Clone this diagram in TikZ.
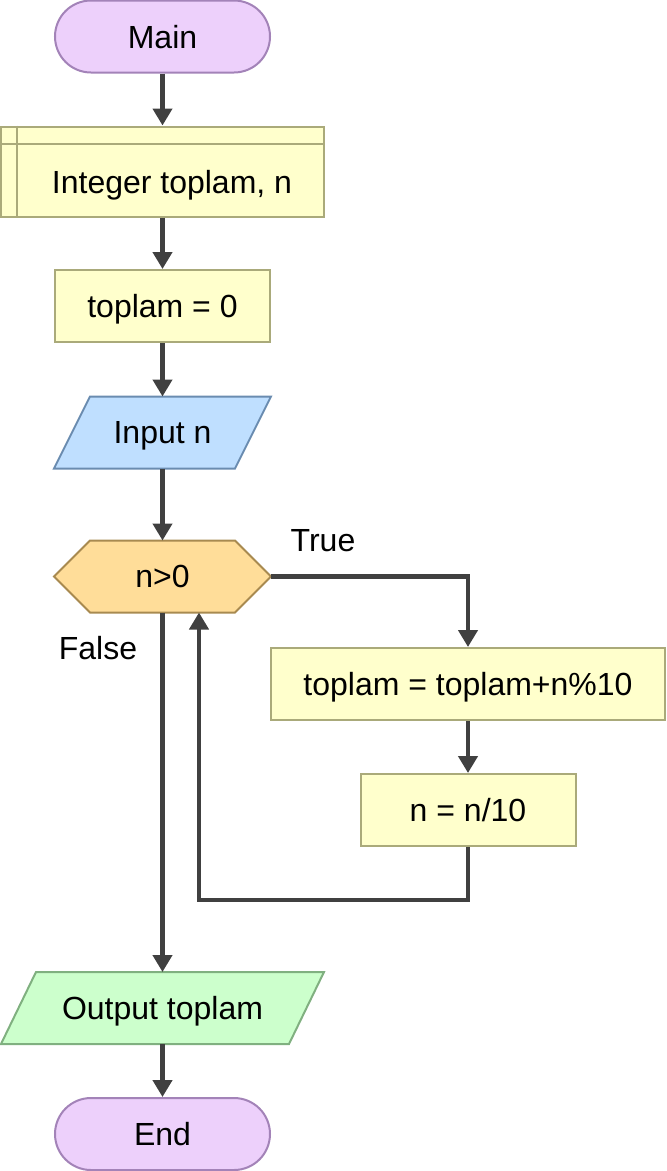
\documentclass[tikz,border=0pt]{standalone}
\usepackage{fontspec}
\setmainfont{Liberation Sans}
\usetikzlibrary{arrows.meta,calc,backgrounds}
\definecolor{termfill}{HTML}{EDD0FB}
\definecolor{termline}{HTML}{A383B8}
\definecolor{procfill}{HTML}{FFFFCC}
\definecolor{procline}{HTML}{AAAA7A}
\definecolor{infill}{HTML}{BFDFFF}
\definecolor{inline}{HTML}{6A8CB0}
\definecolor{outfill}{HTML}{CCFFCC}
\definecolor{outline}{HTML}{80B080}
\definecolor{iffill}{HTML}{FFDD99}
\definecolor{ifline}{HTML}{A88A50}
\definecolor{flow}{HTML}{404040}
\begin{document}
\begin{tikzpicture}[x=1pt,y=-1pt,
  font=\fontsize{32}{38}\selectfont,
  every node/.style={inner sep=0pt, text depth=0pt},
  terminal/.style={rectangle, rounded corners=36pt, draw=termline, fill=termfill,
    line width=2pt, minimum width=215pt, minimum height=72pt},
  proc/.style={rectangle, draw=procline, fill=procfill, line width=2pt,
    minimum height=72pt},
  slot/.style={rectangle, outer sep=0pt, minimum height=72pt},
  shapeline/.style={line width=2pt, line join=miter},
  arrow/.style={draw=flow, line width=4.5pt,
    -{Triangle[width=19pt,length=17pt]}},
  lbl/.style={text=black}]
\useasboundingbox (0,0) rectangle (667,1171);

% flowchart blocks
\node[terminal] (main) at (162.5,36.5) {Main};
\node[proc, minimum width=323pt, minimum height=90pt] (decl) at (162.5,171.5) {};
\node (decltext) at (172,181.5) {Integer toplam, n};
\node[proc, minimum width=215pt] (init) at (162.5,306) {toplam = 0};
\node[slot, minimum width=217pt] (inp) at (162.5,432.5) {Input n};
\node[slot, minimum width=217pt] (cond) at (162.5,576.5) {n>0};
\node[proc, minimum width=394pt] (body1) at (468,684) {toplam = toplam+n\%10};
\node[proc, minimum width=215pt] (body2) at (468,810) {n = n/10};
\node[slot, minimum width=323pt] (outp) at (162.5,1008) {Output toplam};
\node[terminal] (finish) at (162.5,1134) {End};

% outlines of the non-rectangular blocks and the declaration grid
\begin{scope}[on background layer]
  \draw[shapeline, draw=inline, fill=infill]
    (inp.south west) -- ($(inp.north west)+(36,0)$) -- (inp.north east)
    -- ($(inp.south east)+(-36,0)$) -- cycle;
  \draw[shapeline, draw=ifline, fill=iffill]
    (cond.west) -- ($(cond.north west)+(36,0)$) -- ($(cond.north east)+(-36,0)$)
    -- (cond.east) -- ($(cond.south east)+(-36,0)$) -- ($(cond.south west)+(36,0)$)
    -- cycle;
  \draw[shapeline, draw=outline, fill=outfill]
    (outp.south west) -- ($(outp.north west)+(35,0)$) -- (outp.north east)
    -- ($(outp.south east)+(-35,0)$) -- cycle;
\end{scope}
\draw[line width=2pt, procline]
  ($(decl.north west)+(17,0)$) -- ($(decl.south west)+(17,0)$);
\draw[line width=2pt, procline]
  ($(decl.north west)+(0,18.5)$) -- ($(decl.north east)+(0,18.5)$);

% connectors
\draw[arrow] (main) -- (decl);
\draw[arrow] (decl) -- (init);
\draw[arrow] (init) -- (inp);
\draw[arrow] (inp) -- (cond);
\draw[arrow] (cond.east) -| (body1.north);
\draw[arrow] (body1) -- (body2);
\coordinate (loopback) at (199,900);
\draw[arrow] (body2.south) |- (loopback) -- (loopback |- cond.south);
\draw[arrow] (cond.south) -- (outp.north);
\draw[arrow] (outp) -- (finish);

% branch labels
\node[lbl] (truelbl) at (323,540) {True};
\node[lbl] (falselbl) at (98,648) {False};
\end{tikzpicture}
\end{document}
